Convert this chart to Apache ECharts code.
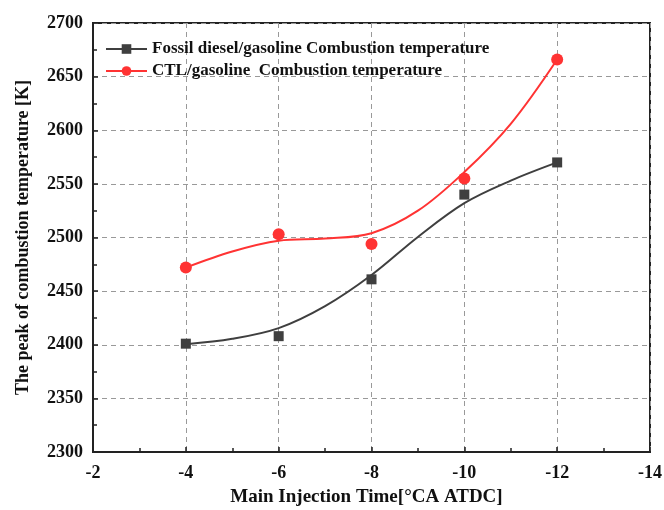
<!DOCTYPE html>
<html>
<head>
<meta charset="utf-8">
<script src="https://cdn.jsdelivr.net/npm/echarts@6/dist/echarts.min.js"></script>
<style>
  html, body { margin: 0; padding: 0; background: #fff; }
  #chart { width: 664px; height: 510px; }
</style>
</head>
<body>
<div id="chart"></div>
<script>
// Measured peak combustion temperatures at each main injection timing
const injectionTimes = [-4, -6, -8, -10, -12];
const fossilTemp = [2401, 2408, 2461, 2540, 2570];
const ctlTemp = [2472, 2503, 2494, 2555, 2666];

// Fitted trend curves (knots at each degree of injection timing)
const curveTimes = [-4, -5, -6, -7, -8, -9, -10, -11, -12];
const fossilCurve = [2400.5, 2405.5, 2415.5, 2436, 2465, 2500.5, 2532, 2553, 2570];
const ctlCurve = [2472, 2487, 2497, 2499, 2504, 2525, 2561, 2606, 2666];

const seriesNames = [
  'Fossil diesel/gasoline Combustion temperature',
  'CTL/gasoline  Combustion temperature'
];

const BLACK = '#3f3f3f';
const RED = '#ff3333';
const FONT = "'Liberation Serif', 'Times New Roman', serif";

const pairs = (xs, ys) => xs.map((x, i) => [x, ys[i]]);

const chart = echarts.init(document.getElementById('chart'), null, { renderer: 'canvas' });

chart.setOption({
  animation: false,
  backgroundColor: '#fff',
  grid: {
    left: 93, right: 14, top: 23, bottom: 58,
    outerBoundsMode: 'none',
    show: true, borderColor: '#222', borderWidth: 2, backgroundColor: 'transparent'
  },
  legend: {
    orient: 'vertical',
    left: 100, top: 34,
    itemWidth: 41, itemHeight: 12, itemGap: 2,
    textStyle: { fontFamily: FONT, fontWeight: 'bold', fontSize: 17, lineHeight: 20, color: '#111' },
    data: seriesNames
  },
  xAxis: {
    type: 'value',
    min: -14, max: -2, interval: 2,
    inverse: true,
    name: 'Main Injection Time[°CA ATDC]',
    nameLocation: 'middle',
    nameGap: 36,
    nameTextStyle: {
      fontFamily: FONT, fontWeight: 'bold', fontSize: 19, color: '#111',
      padding: [0, 10, 0, 0]
    },
    axisLine: { show: true, onZero: false, lineStyle: { color: '#222', width: 2 } },
    axisTick: { show: true, inside: true, length: 5, lineStyle: { color: '#222', width: 1.5 } },
    minorTick: { show: true, splitNumber: 2, length: 4, lineStyle: { color: '#222', width: 1.5 } },
    axisLabel: { fontFamily: FONT, fontWeight: 'bold', fontSize: 18, color: '#111', margin: 12 },
    splitLine: { show: true, lineStyle: { color: '#999', type: [5, 4], width: 1 } }
  },
  yAxis: {
    type: 'value',
    min: 2300, max: 2700, interval: 50,
    name: 'The peak of combustion temperature [K]',
    nameLocation: 'middle',
    nameGap: 61,
    nameTextStyle: { fontFamily: FONT, fontWeight: 'bold', fontSize: 18, color: '#111' },
    axisLine: { show: true, onZero: false, lineStyle: { color: '#222', width: 2 } },
    axisTick: { show: true, inside: true, length: 5, lineStyle: { color: '#222', width: 1.5 } },
    minorTick: { show: true, splitNumber: 2, length: 4, lineStyle: { color: '#222', width: 1.5 } },
    axisLabel: {
      fontFamily: FONT, fontWeight: 'bold', fontSize: 18, color: '#111', margin: 10,
      formatter: v => String(v)
    },
    splitLine: { show: true, lineStyle: { color: '#999', type: [5, 4], width: 1 } }
  },
  series: [
    {
      name: seriesNames[0],
      type: 'line',
      data: pairs(curveTimes, fossilCurve),
      smooth: 0.35,
      symbol: 'rect', symbolSize: 10, showSymbol: false,
      lineStyle: { color: BLACK, width: 2 },
      itemStyle: { color: BLACK },
      z: 3
    },
    {
      name: seriesNames[1],
      type: 'line',
      data: pairs(curveTimes, ctlCurve),
      smooth: 0.35,
      symbol: 'circle', symbolSize: 11, showSymbol: false,
      lineStyle: { color: RED, width: 2 },
      itemStyle: { color: RED },
      z: 3
    },
    {
      name: seriesNames[0],
      type: 'scatter',
      data: pairs(injectionTimes, fossilTemp),
      symbol: 'rect', symbolSize: 10,
      itemStyle: { color: BLACK, opacity: 1 },
      z: 4
    },
    {
      name: seriesNames[1],
      type: 'scatter',
      data: pairs(injectionTimes, ctlTemp),
      symbol: 'circle', symbolSize: 12,
      itemStyle: { color: RED, opacity: 1 },
      z: 4
    }
  ]
});
</script>
</body>
</html>
